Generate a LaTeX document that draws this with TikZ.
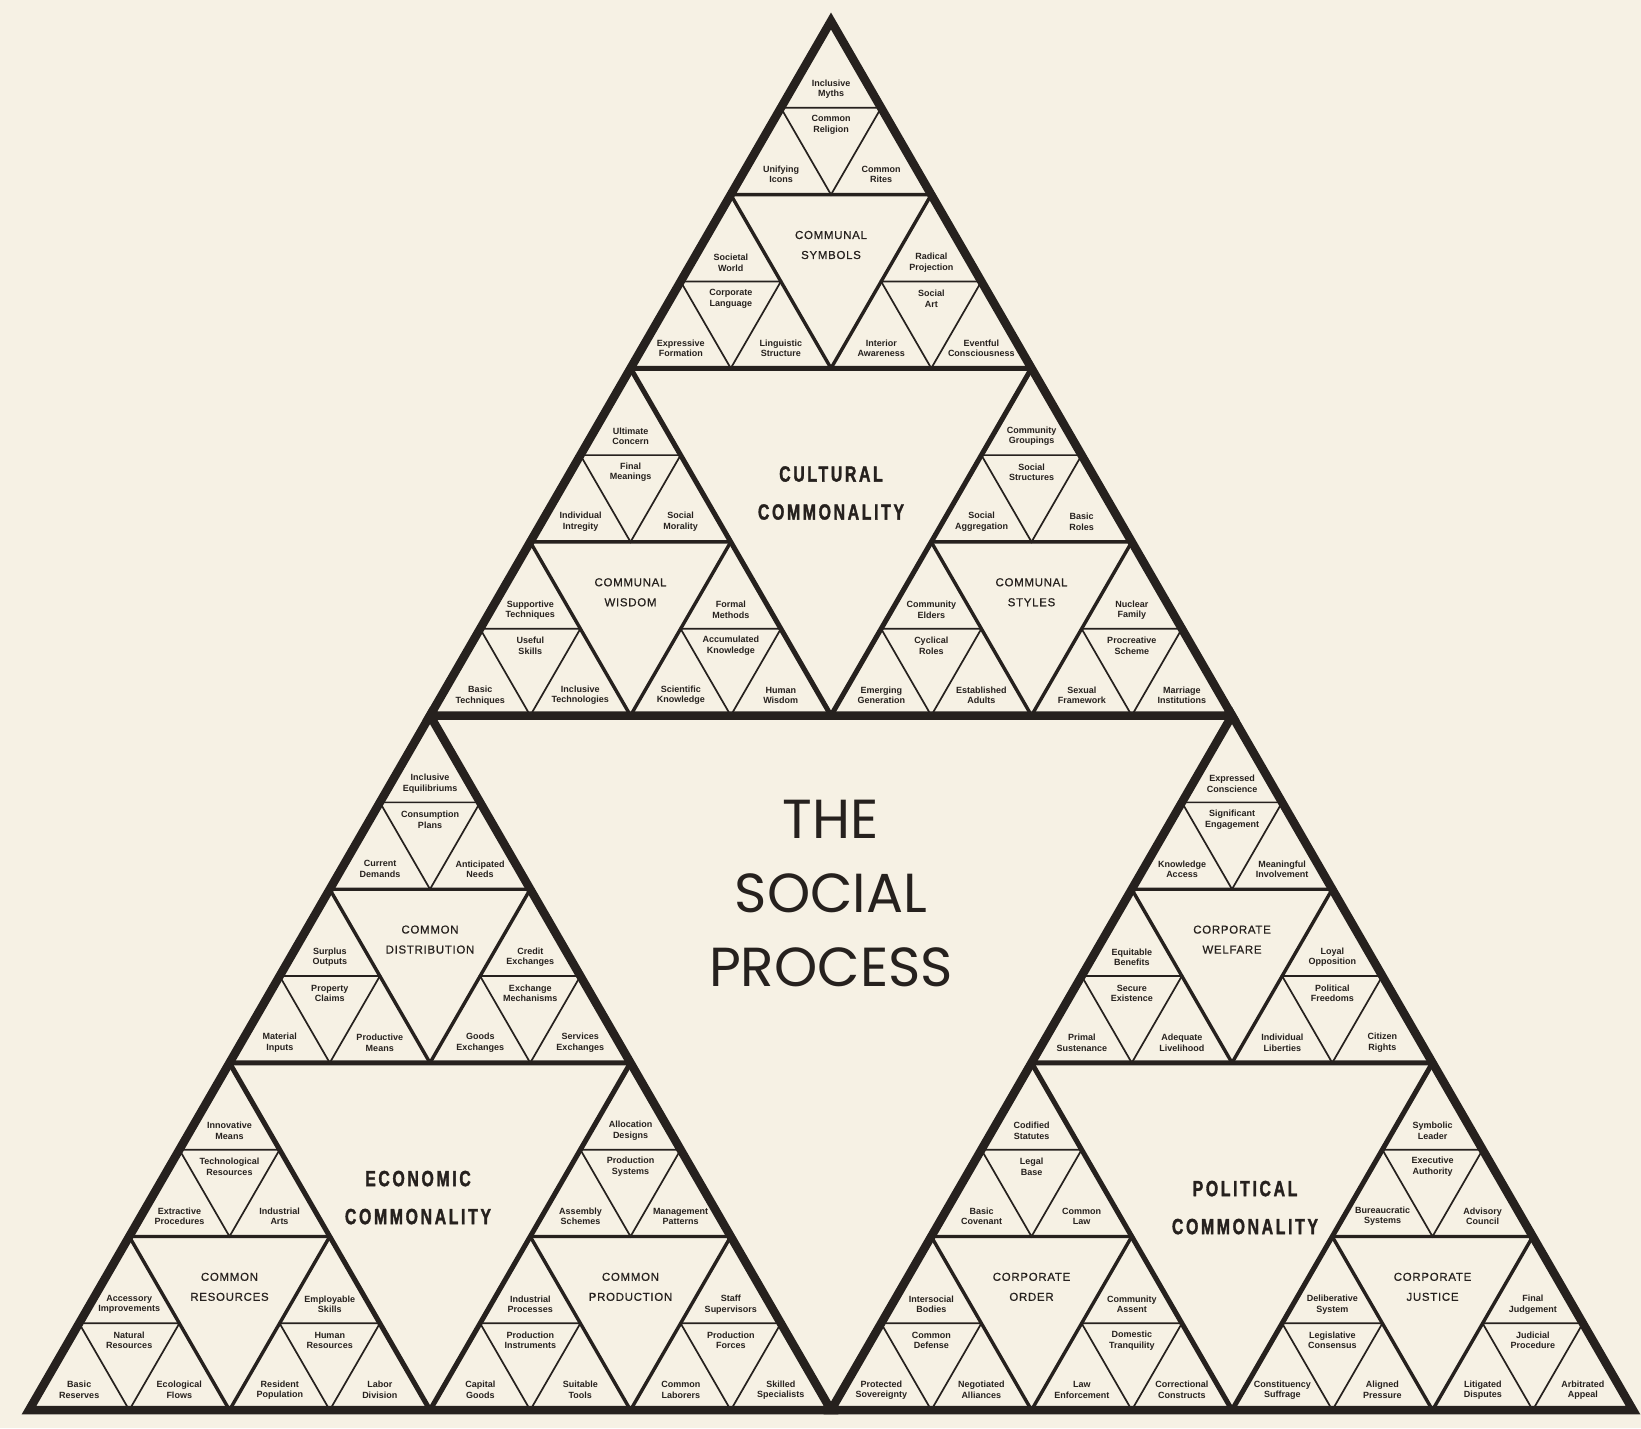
\documentclass[tikz,border=0pt]{standalone}
\usepackage{fontspec}
\setmainfont{Liberation Sans}
\newfontfamily\medfont[LetterSpace=6,FakeBold=0.6]{Liberation Sans}
\newfontfamily\condfont[FakeStretch=0.72,LetterSpace=12,FakeBold=1.6]{Liberation Sans}
\newfontfamily\titlefont{Poppins}
\definecolor{paper}{RGB}{246,241,228}
\definecolor{ink}{RGB}{38,33,30}

% smallest group: apex at (#2,#3), labels top / inner / left / right
\newcommand{\minitri}[7]{%
  \begin{scope}[shift={(#2,#3)}]
    \draw[lvl3] (0,0) -- (-100.25,173.64) -- (100.25,173.64) -- cycle;
    \draw[lvl4] (-50.125,86.82) -- (50.125,86.82) -- (0,173.64) -- cycle;
    \node[lbl] (#1t) at (0,68) {#4};
    \node[lbl] (#1c) at (0,104) {#5};
    \node[lbl] (#1l) at (-50,153.5) {#6};
    \node[lbl] (#1r) at (50,153.5) {#7};
  \end{scope}}
% middle group outline and its label
\newcommand{\midtri}[2]{%
  \draw[lvl2] (0,0) -- (-200.5,347.28) -- (200.5,347.28) -- cycle;
  \node[grp] (#1) at (0,224) {#2};}
% large group outline and its label at (#2,#3)
\newcommand{\bigtri}[4]{%
  \draw[lvl1] (0,0) -- (-401,694.55) -- (401,694.55) -- cycle;
  \node[big] (#1) at (#2,#3) {#4};}

\begin{document}
\begin{tikzpicture}[x=1pt,y=-1pt,
  lvl1/.style={draw=ink,line width=8.5pt},
  lvl2/.style={draw=ink,line width=5pt},
  lvl3/.style={draw=ink,line width=3.4pt},
  lvl4/.style={draw=ink,line width=1.7pt},
  lbl/.style={font=\fontsize{9}{10.5}\bfseries\selectfont,align=center,inner sep=0pt,text=ink},
  grp/.style={font=\medfont\fontsize{11.5}{20}\selectfont,align=center,inner sep=0pt,text=ink},
  big/.style={font=\condfont\bfseries\fontsize{22}{38}\selectfont,align=center,inner sep=0pt,text=ink},
  ttl/.style={font=\titlefont\fontsize{55}{74}\selectfont,align=center,inner sep=0pt,text=ink}
]
\fill[paper] (0,0) rectangle (1641,1428);
\useasboundingbox (0,0) rectangle (1641,1428);

% cultural
\begin{scope}[shift={(831,21)}]
  \bigtri{cul}{0}{472}{CULTURAL\\COMMONALITY}
  \begin{scope}[shift={(0,0)}]
    \midtri{sym}{COMMUNAL\\SYMBOLS}
    \minitri{syma}{0}{0}{Inclusive\\Myths}{Common\\Religion}{Unifying\\Icons}{Common\\Rites}
    \minitri{symb}{-100.25}{173.64}{Societal\\World}{Corporate\\Language}{Expressive\\Formation}{Linguistic\\Structure}
    \minitri{symc}{100.25}{173.64}{Radical\\Projection}{Social\\Art}{Interior\\Awareness}{Eventful\\Consciousness}
  \end{scope}
  \begin{scope}[shift={(-200.5,347.28)}]
    \midtri{wis}{COMMUNAL\\WISDOM}
    \minitri{wisa}{0}{0}{Ultimate\\Concern}{Final\\Meanings}{Individual\\Intregity}{Social\\Morality}
    \minitri{wisb}{-100.25}{173.64}{Supportive\\Techniques}{Useful\\Skills}{Basic\\Techniques}{Inclusive\\Technologies}
    \minitri{wisc}{100.25}{173.64}{Formal\\Methods}{Accumulated\\Knowledge}{Scientific\\Knowledge}{Human\\Wisdom}
  \end{scope}
  \begin{scope}[shift={(200.5,347.28)}]
    \midtri{sty}{COMMUNAL\\STYLES}
    \minitri{stya}{0}{0}{Community\\Groupings}{Social\\Structures}{Social\\Aggregation}{Basic\\Roles}
    \minitri{styb}{-100.25}{173.64}{Community\\Elders}{Cyclical\\Roles}{Emerging\\Generation}{Established\\Adults}
    \minitri{styc}{100.25}{173.64}{Nuclear\\Family}{Procreative\\Scheme}{Sexual\\Framework}{Marriage\\Institutions}
  \end{scope}
\end{scope}

% economic
\begin{scope}[shift={(430,715.55)}]
  \bigtri{eco}{-12}{482}{ECONOMIC\\COMMONALITY}
  \begin{scope}[shift={(0,0)}]
    \midtri{dis}{COMMON\\DISTRIBUTION}
    \minitri{disa}{0}{0}{Inclusive\\Equilibriums}{Consumption\\Plans}{Current\\Demands}{Anticipated\\Needs}
    \minitri{disb}{-100.25}{173.64}{Surplus\\Outputs}{Property\\Claims}{Material\\Inputs}{Productive\\Means}
    \minitri{disc}{100.25}{173.64}{Credit\\Exchanges}{Exchange\\Mechanisms}{Goods\\Exchanges}{Services\\Exchanges}
  \end{scope}
  \begin{scope}[shift={(-200.5,347.28)}]
    \midtri{res}{COMMON\\RESOURCES}
    \minitri{resa}{0}{0}{Innovative\\Means}{Technological\\Resources}{Extractive\\Procedures}{Industrial\\Arts}
    \minitri{resb}{-100.25}{173.64}{Accessory\\Improvements}{Natural\\Resources}{Basic\\Reserves}{Ecological\\Flows}
    \minitri{resc}{100.25}{173.64}{Employable\\Skills}{Human\\Resources}{Resident\\Population}{Labor\\Division}
  \end{scope}
  \begin{scope}[shift={(200.5,347.28)}]
    \midtri{pro}{COMMON\\PRODUCTION}
    \minitri{proa}{0}{0}{Allocation\\Designs}{Production\\Systems}{Assembly\\Schemes}{Management\\Patterns}
    \minitri{prob}{-100.25}{173.64}{Industrial\\Processes}{Production\\Instruments}{Capital\\Goods}{Suitable\\Tools}
    \minitri{proc}{100.25}{173.64}{Staff\\Supervisors}{Production\\Forces}{Common\\Laborers}{Skilled\\Specialists}
  \end{scope}
\end{scope}

% political
\begin{scope}[shift={(1232,715.55)}]
  \bigtri{pol}{13}{492}{POLITICAL\\COMMONALITY}
  \begin{scope}[shift={(0,0)}]
    \midtri{wel}{CORPORATE\\WELFARE}
    \minitri{wela}{0}{0}{Expressed\\Conscience}{Significant\\Engagement}{Knowledge\\Access}{Meaningful\\Involvement}
    \minitri{welb}{-100.25}{173.64}{Equitable\\Benefits}{Secure\\Existence}{Primal\\Sustenance}{Adequate\\Livelihood}
    \minitri{welc}{100.25}{173.64}{Loyal\\Opposition}{Political\\Freedoms}{Individual\\Liberties}{Citizen\\Rights}
  \end{scope}
  \begin{scope}[shift={(-200.5,347.28)}]
    \midtri{ord}{CORPORATE\\ORDER}
    \minitri{orda}{0}{0}{Codified\\Statutes}{Legal\\Base}{Basic\\Covenant}{Common\\Law}
    \minitri{ordb}{-100.25}{173.64}{Intersocial\\Bodies}{Common\\Defense}{Protected\\Sovereignty}{Negotiated\\Alliances}
    \minitri{ordc}{100.25}{173.64}{Community\\Assent}{Domestic\\Tranquility}{Law\\Enforcement}{Correctional\\Constructs}
  \end{scope}
  \begin{scope}[shift={(200.5,347.28)}]
    \midtri{jus}{CORPORATE\\JUSTICE}
    \minitri{jusa}{0}{0}{Symbolic\\Leader}{Executive\\Authority}{Bureaucratic\\Systems}{Advisory\\Council}
    \minitri{jusb}{-100.25}{173.64}{Deliberative\\System}{Legislative\\Consensus}{Constituency\\Suffrage}{Aligned\\Pressure}
    \minitri{jusc}{100.25}{173.64}{Final\\Judgement}{Judicial\\Procedure}{Litigated\\Disputes}{Arbitrated\\Appeal}
  \end{scope}
\end{scope}

\node[ttl] (title) at (831,893) {THE\\SOCIAL\\PROCESS};
\end{tikzpicture}
\end{document}
